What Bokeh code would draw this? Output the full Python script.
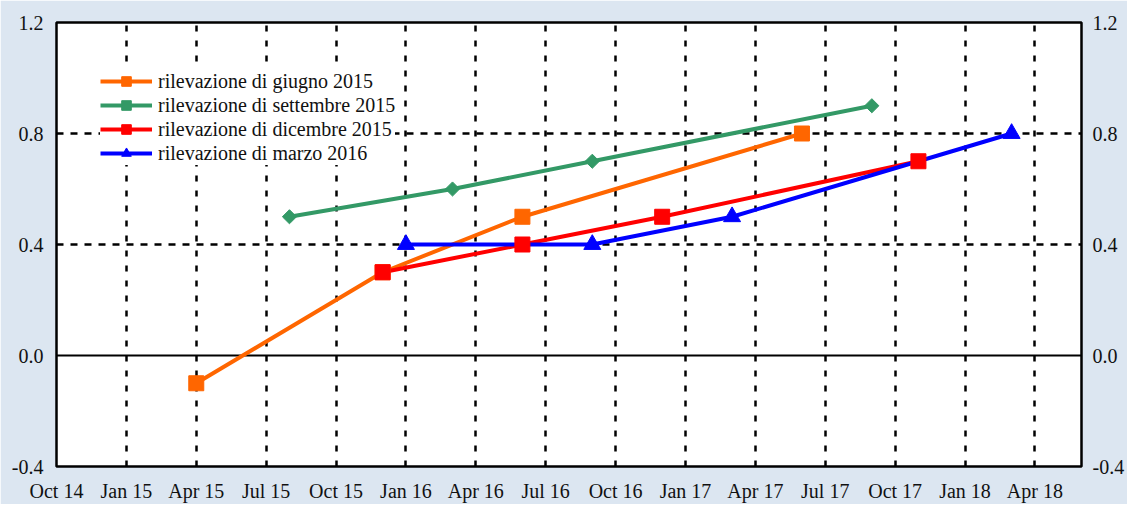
from bokeh.plotting import figure
from bokeh.models import (FixedTicker, Span, Legend, LegendItem, LinearAxis,
                          Range1d, NumeralTickFormatter)
from bokeh.embed import file_html
from bokeh.resources import INLINE

# ---------------- data ----------------
tick_labels = ["Oct 14", "Jan 15", "Apr 15", "Jul 15", "Oct 15", "Jan 16", "Apr 16",
               "Jul 16", "Oct 16", "Jan 17", "Apr 17", "Jul 17", "Oct 17", "Jan 18", "Apr 18"]

giugno_dates = ["2015-04", "2015-12", "2016-06", "2017-06"]
giugno_vals = [-0.1, 0.3, 0.5, 0.8]
settembre_dates = ["2015-08", "2016-03", "2016-09", "2017-09"]
settembre_vals = [0.5, 0.6, 0.7, 0.9]
dicembre_dates = ["2015-12", "2016-06", "2016-12", "2017-11"]
dicembre_vals = [0.3, 0.4, 0.5, 0.7]
marzo_dates = ["2016-01", "2016-09", "2017-03", "2018-03"]
marzo_vals = [0.4, 0.4, 0.5, 0.8]

series_names = ["rilevazione di giugno 2015", "rilevazione di settembre 2015",
                "rilevazione di dicembre 2015", "rilevazione di marzo 2016"]


def months(s):
    # months counted from October 2014
    y, mo = s.split("-")
    return (int(y) - 2014) * 12 + int(mo) - 10


FONT = "'Liberation Serif', 'DejaVu Serif', serif"
BG = "#DCE6F1"

p = figure(width=1127, height=504,
           x_range=Range1d(0, 44), y_range=Range1d(-0.4, 1.2),
           output_backend="svg", toolbar_location=None,
           min_border_left=56, min_border_right=45,
           min_border_top=22, min_border_bottom=38)

p.background_fill_color = "white"
p.border_fill_color = BG
p.outline_line_color = "black"
p.outline_line_width = 2.5

# x axis
tick_pos = [3 * i for i in range(len(tick_labels))]
p.xaxis.ticker = FixedTicker(ticks=tick_pos)
p.xaxis.major_label_overrides = {t: lab for t, lab in zip(tick_pos, tick_labels)}
p.xaxis.axis_line_color = None
p.xaxis.major_tick_line_color = None
p.xaxis.minor_tick_line_color = None
p.xaxis.major_tick_out = 0
p.xaxis.major_tick_in = 0
p.xaxis.major_label_standoff = 13
p.xaxis.major_label_text_font = FONT
p.xaxis.major_label_text_font_size = "20px"
p.xaxis.major_label_text_color = "#111111"

# y axes
yticks = [-0.4, 0.0, 0.4, 0.8, 1.2]
yr = LinearAxis()
p.add_layout(yr, "right")
for ax, standoff in ((p.yaxis[0], 13), (yr, 11)):
    ax.ticker = FixedTicker(ticks=yticks)
    ax.formatter = NumeralTickFormatter(format="0.0")
    ax.axis_line_color = None
    ax.major_tick_line_color = None
    ax.minor_tick_line_color = None
    ax.major_tick_out = 0
    ax.major_tick_in = 0
    ax.major_label_standoff = standoff
    ax.major_label_text_font = FONT
    ax.major_label_text_font_size = "20px"
    ax.major_label_text_color = "#111111"

# grids
p.xgrid.ticker = FixedTicker(ticks=[3 * i for i in range(1, 15)])
p.xgrid.grid_line_color = "black"
p.xgrid.grid_line_width = 2.5
p.xgrid.grid_line_dash = "6 9"
p.ygrid.ticker = FixedTicker(ticks=[0.4, 0.8])
p.ygrid.grid_line_color = "black"
p.ygrid.grid_line_width = 2.5
p.ygrid.grid_line_dash = "7 7"
p.add_layout(Span(location=0, dimension="width", line_color="black",
                  line_width=2, level="underlay"))

# series
specs = [
    (giugno_dates, giugno_vals, "#FF6600", "square", 15, 0.0),
    (settembre_dates, settembre_vals, "#339966", "square", 10, 0.785398),
    (dicembre_dates, dicembre_vals, "#FF0000", "square", 15, 0.0),
    (marzo_dates, marzo_vals, "#0000FF", "triangle", 17, 0.0),
]

lines = []
for dates, vals, col, mk, sz, ang in specs:
    xs = [months(d) for d in dates]
    lines.append(p.line(xs, vals, line_color=col, line_width=4))
marks = []
for dates, vals, col, mk, sz, ang in specs:
    xs = [months(d) for d in dates]
    marks.append(p.scatter(xs, vals, marker=mk, size=sz, angle=ang,
                           fill_color=col, line_color=col))

items = [LegendItem(label=name, renderers=[l, m])
         for name, l, m in zip(series_names, lines, marks)]
legend = Legend(items=items, location=(44, 301), padding=6, spacing=0,
                label_height=21, glyph_height=24, glyph_width=52,
                label_standoff=6, margin=0,
                background_fill_color="white", background_fill_alpha=1.0,
                border_line_color=None,
                label_text_font=FONT, label_text_font_size="20px",
                label_text_color="#111111")
p.add_layout(legend)

open("out.html", "w").write(file_html(p, INLINE))
